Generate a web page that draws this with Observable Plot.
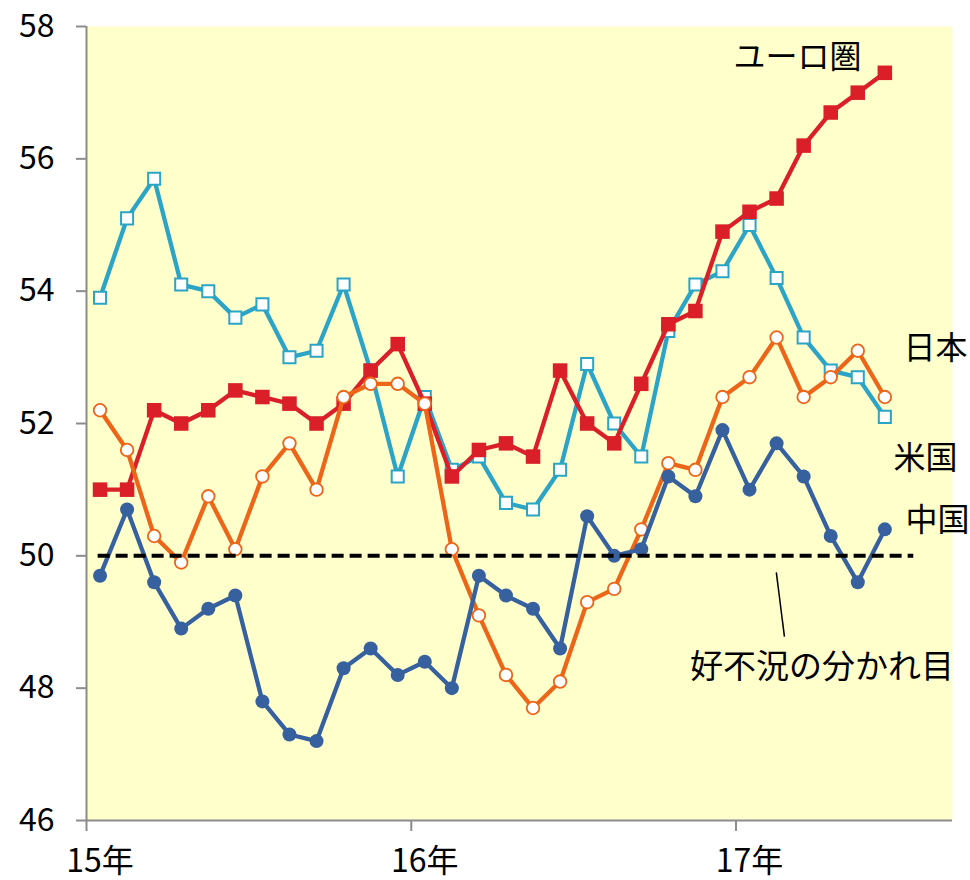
<!DOCTYPE html>
<html><head><meta charset="utf-8">
<script src="https://cdn.jsdelivr.net/npm/d3@7"></script>
<script src="https://cdn.jsdelivr.net/npm/@observablehq/plot@0.6"></script>
<style>body{margin:0;background:#fff}</style>
</head><body><div id="chart"></div>
<script>
// Monthly PMI, Jan 2015 – Jun 2017 (30 months)
const euro  = [51.0,51.0,52.2,52.0,52.2,52.5,52.4,52.3,52.0,52.3,52.8,53.2,52.3,51.2,51.6,51.7,51.5,52.8,52.0,51.7,52.6,53.5,53.7,54.9,55.2,55.4,56.2,56.7,57.0,57.3];
const us    = [53.9,55.1,55.7,54.1,54.0,53.6,53.8,53.0,53.1,54.1,52.8,51.2,52.4,51.3,51.5,50.8,50.7,51.3,52.9,52.0,51.5,53.4,54.1,54.3,55.0,54.2,53.3,52.8,52.7,52.1];
const japan = [52.2,51.6,50.3,49.9,50.9,50.1,51.2,51.7,51.0,52.4,52.6,52.6,52.3,50.1,49.1,48.2,47.7,48.1,49.3,49.5,50.4,51.4,51.3,52.4,52.7,53.3,52.4,52.7,53.1,52.4];
const china = [49.7,50.7,49.6,48.9,49.2,49.4,47.8,47.3,47.2,48.3,48.6,48.2,48.4,48.0,49.7,49.4,49.2,48.6,50.6,50.0,50.1,51.2,50.9,51.9,51.0,51.7,51.2,50.3,49.6,50.4];

const yTicks = [46, 48, 50, 52, 54, 56, 58];
const yearLabels = ["15年", "16年", "17年"];
const yearStarts = [0, 12, 24];          // month index where each year begins
const threshold = [50];
const thresholdLabel = "好不況の分かれ目";

const seriesLabels = ["ユーロ圏", "日本", "米国", "中国"];
const seriesLabelX = [26.27, 31.37, 31.0, 31.45];
const seriesLabelY = [57.53, 53.13, 51.47, 50.53];

const cUS = "#2BA4C6", cEU = "#DA1F28", cJP = "#EC6519", cCN = "#36609E";

const rows = vals => vals.map((v, i) => ({x: i + 0.5, v}));
const labelRows = seriesLabels.map((t, i) => ({t, x: seriesLabelX[i], y: seriesLabelY[i]}));
const yearPos = yearStarts.map(d => d + 0.5);

const font = "'Noto Sans CJK JP', 'Noto Sans', sans-serif";

const chart = Plot.plot({
  width: 970, height: 880,
  marginLeft: 86, marginRight: 18, marginTop: 26, marginBottom: 60,
  x: {domain: [0, 32], label: null},
  y: {domain: [46, 58], label: null},
  style: {fontFamily: font, fontSize: "32px", color: "#000", background: "#fff"},
  marks: [
    Plot.frame({fill: "#FFFFCC", stroke: "none"}),
    Plot.axisY({ticks: yTicks, tickSize: 10, tickPadding: 22, stroke: "#8c8c8c", strokeWidth: 2, fill: "#000", label: null, fontSize: 32}),
    Plot.axisX({ticks: yearStarts, tickSize: 11, tickFormat: () => "", stroke: "#8c8c8c", strokeWidth: 2, label: null}),
    Plot.axisX({ticks: yearPos, tickSize: 0, tickPadding: 29, tickFormat: d => yearLabels[yearPos.indexOf(d)], fill: "#000", label: null, fontSize: 32}),
    Plot.ruleX([0], {stroke: "#8c8c8c", strokeWidth: 2}),
    Plot.ruleY([46], {stroke: "#8c8c8c", strokeWidth: 2}),

    Plot.line(rows(us), {x: "x", y: "v", stroke: cUS, strokeWidth: 4.3}),
    Plot.dot(rows(us), {x: "x", y: "v", symbol: "square", r: 6.8, fill: "white", stroke: cUS, strokeWidth: 2}),

    Plot.line(rows(euro), {x: "x", y: "v", stroke: cEU, strokeWidth: 4.3}),
    Plot.dot(rows(euro), {x: "x", y: "v", symbol: "square", r: 8.2, fill: cEU, stroke: "none"}),

    Plot.line(rows(japan), {x: "x", y: "v", stroke: cJP, strokeWidth: 4.3}),
    Plot.dot(rows(japan), {x: "x", y: "v", r: 6.3, fill: "white", stroke: cJP, strokeWidth: 1.8}),

    Plot.line(rows(china), {x: "x", y: "v", stroke: cCN, strokeWidth: 4.3}),
    Plot.dot(rows(china), {x: "x", y: "v", r: 7, fill: cCN, stroke: "none"}),

    Plot.ruleY(threshold, {x1: 0.43, x2: 30.57, stroke: "#000", strokeWidth: 4, strokeDasharray: "12,6"}),

    Plot.link([{x1: 25.49, y1: 49.75, x2: 25.79, y2: 48.78}], {x1: "x1", y1: "y1", x2: "x2", y2: "y2", stroke: "#000", strokeWidth: 1.5}),
    Plot.text([thresholdLabel], {x: 27.18, y: 48.31, text: d => d, fontSize: 33, fill: "#000"}),
    Plot.text(labelRows, {x: "x", y: "y", text: "t", fontSize: 32, fill: "#000"})
  ]
});
document.getElementById("chart").appendChild(chart);
</script>
</body></html>
